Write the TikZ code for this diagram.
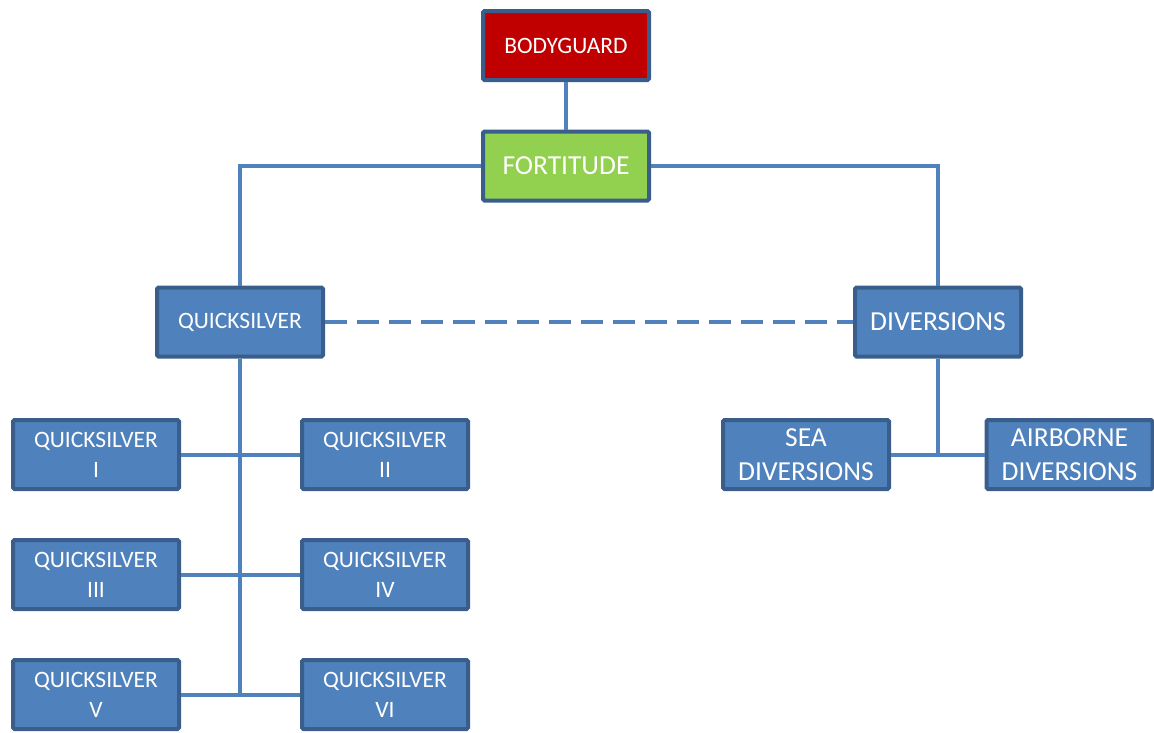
\documentclass[tikz,border=0pt]{standalone}
\usepackage{fontspec}
\setmainfont{Carlito}
\definecolor{boxblue}{HTML}{4F81BD}
\definecolor{boxedge}{HTML}{3A5E8C}
\definecolor{linkblue}{HTML}{4F81BD}
\definecolor{bgred}{HTML}{C00000}
\definecolor{fgreen}{HTML}{92D050}
\begin{document}
\begin{tikzpicture}[x=1pt,y=-1pt,
  box/.style={draw=boxedge, line width=4pt, fill=boxblue, text=white,
    minimum width=166pt, minimum height=69pt, inner sep=0pt, align=center,
    rounded corners=1.5pt},
  small/.style={font=\fontsize{23.5}{30}\selectfont},
  big/.style={font=\fontsize{27.5}{34}\selectfont},
  link/.style={draw=linkblue, line width=4pt},
  dlink/.style={draw=linkblue, line width=4pt, dash pattern=on 22pt off 10pt}]
\useasboundingbox (0,0) rectangle (1154,732);
\node[box, small, fill=bgred] (bg) at (566,45.5) {BODYGUARD};
\node[box, big, fill=fgreen] (fort) at (566,166) {FORTITUDE};
\node[box, small] (qs) at (240,322) {QUICKSILVER};
\node[box, big] (div) at (938,322) {DIVERSIONS};
\node[box, small] (q1) at (96,454.5) {QUICKSILVER\\I};
\node[box, small] (q2) at (385,454.5) {QUICKSILVER\\II};
\node[box, small] (q3) at (96,574.5) {QUICKSILVER\\III};
\node[box, small] (q4) at (385,574.5) {QUICKSILVER\\IV};
\node[box, small] (q5) at (96,694.5) {QUICKSILVER\\V};
\node[box, small] (q6) at (385,694.5) {QUICKSILVER\\VI};
\node[box, big] (sea) at (806,454.5) {SEA\\DIVERSIONS};
\node[box, big] (air) at (1069.5,454.5) {AIRBORNE\\DIVERSIONS};
\path[link] (bg.south) -- (fort.north);
\path[link] (fort.west) -| (qs.north);
\path[link] (fort.east) -| (div.north);
\path[dlink] (qs.east) -- (div.west);
\path[link] (qs.south) |- (q1.east);
\path[link] (qs.south) |- (q2.west);
\path[link] (qs.south) |- (q3.east);
\path[link] (qs.south) |- (q4.west);
\path[link] (qs.south) |- (q5.east);
\path[link] (qs.south) |- (q6.west);
\path[link] (div.south) |- (sea.east);
\path[link] (div.south) |- (air.west);
\end{tikzpicture}
\end{document}
